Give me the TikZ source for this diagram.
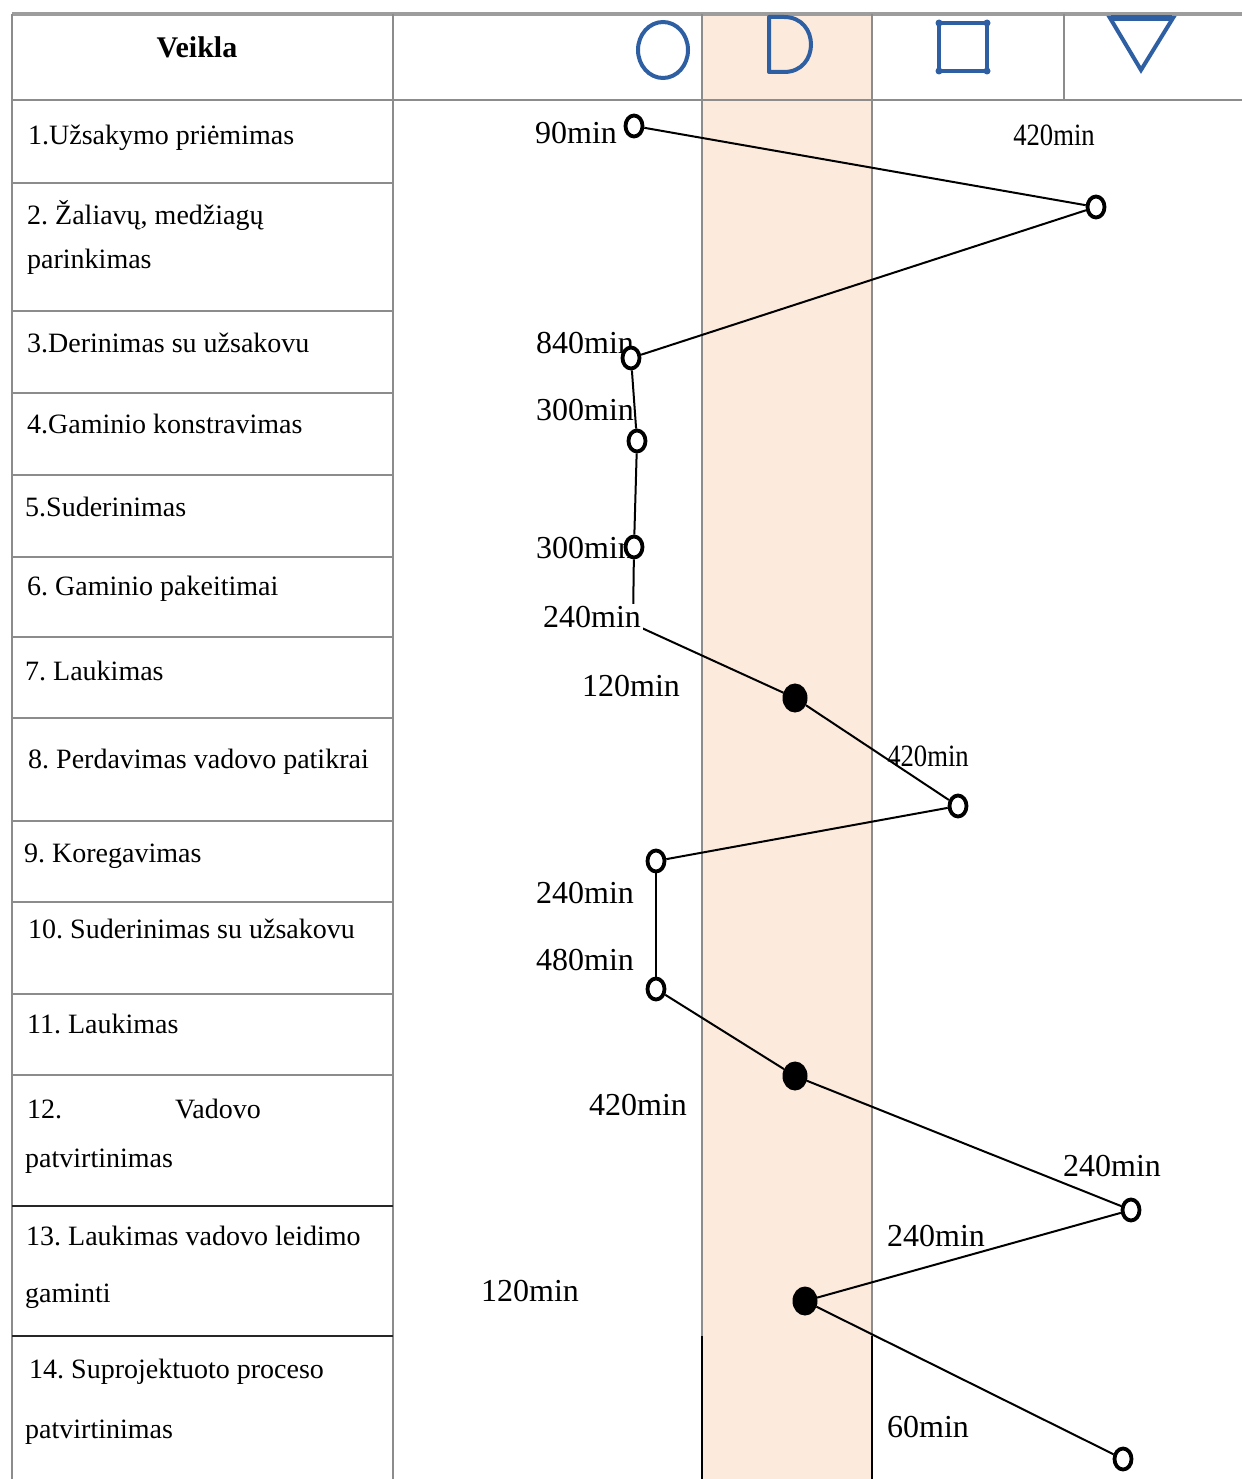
\documentclass[tikz,border=0pt]{standalone}
\usepackage{fontspec}
\setmainfont{Liberation Serif}
\usetikzlibrary{shapes.geometric}
\definecolor{band}{RGB}{252,235,220}
\definecolor{rule}{RGB}{140,140,140}
\definecolor{symblue}{RGB}{46,95,163}
\frenchspacing
\begin{document}
\begin{tikzpicture}[x=1pt,y=-1pt,
  rowtext/.style={anchor=base west, inner sep=0pt, font=\fontsize{28}{34}\selectfont},
  headtext/.style={anchor=base, inner sep=0pt, font=\bfseries\fontsize{30}{36}\selectfont},
  timelbl/.style={inner sep=1pt, font=\fontsize{32}{38}\selectfont},
  narrowlbl/.style={inner sep=1pt, font=\fontsize{31}{36}\selectfont},
  opennode/.style={ellipse, draw, line width=3.8pt, fill=white, minimum width=17pt, minimum height=21pt, inner sep=0pt},
  fullnode/.style={ellipse, fill=black, draw, line width=1pt, minimum width=24pt, minimum height=28pt, inner sep=0pt},
  flow/.style={line width=2pt},
  gridline/.style={draw=rule, line width=2.5pt},
  symbol/.style={draw=symblue, line width=4pt}
]
\useasboundingbox (0,0) rectangle (1242,1479);

% shaded delay column
\fill[band] (702,14) rectangle (872,1479);

% table rules
\draw[gridline, line width=4pt, draw=rule!85] (12,14) -- (1242,14);
\draw[gridline] (12,14) -- (12,1479);
\draw[gridline] (393,14) -- (393,1479);
\draw[gridline] (702,14) -- (702,1336);
\draw[gridline] (872,14) -- (872,1336);
\draw[gridline] (1064,14) -- (1064,100);
\draw[gridline] (12,100) -- (1242,100);
\foreach \yy in {183,311,393,475,557,637,718,821,902,994,1075}
  \draw[gridline] (12,\yy) -- (393,\yy);
\draw[line width=2.5pt, black!85] (12,1206) -- (393,1206) (12,1336) -- (393,1336);
\draw[line width=2pt] (702,1336) -- (702,1479) (872,1336) -- (872,1479);

% header symbols
\draw[symbol] (663,50) ellipse [x radius=25pt, y radius=28pt];
\draw[symbol, line join=round] (769,17) -- (784,17) .. controls (820,17) and (820,72) .. (784,72) -- (769,72) -- cycle;
\draw[symbol] (939,23) rectangle (987,71);
\foreach \cx/\cy in {939/23,987/23,939/71,987/71}
  \fill[symblue] (\cx,\cy) circle (3.5pt);
\draw[symbol, line join=miter] (1110,18) -- (1173,18) -- (1141,70) -- cycle;
\draw[symbol, line width=6pt] (1111,18) -- (1172,18);

% activity column
\node[headtext] (hd) at (197,58) {Veikla};
\node[rowtext] (r1) at (28,145) {1.Užsakymo priėmimas};
\node[rowtext] (r2a) at (27,225) {2. Žaliavų, medžiagų};
\node[rowtext] (r2b) at (27,268) {parinkimas};
\node[rowtext] (r3) at (27,352) {3.Derinimas su užsakovu};
\node[rowtext] (r4) at (27,433) {4.Gaminio konstravimas};
\node[rowtext] (r5) at (25,516) {5.Suderinimas};
\node[rowtext] (r6) at (27,595) {6. Gaminio pakeitimai};
\node[rowtext] (r7) at (25,680) {7. Laukimas};
\node[rowtext] (r8) at (28,768) {8. Perdavimas vadovo patikrai};
\node[rowtext] (r9) at (24,862) {9. Koregavimas};
\node[rowtext] (r10) at (28,938) {10. Suderinimas su užsakovu};
\node[rowtext] (r11) at (27,1033) {11. Laukimas};
\node[rowtext] (r12a) at (27,1118) {12.};
\node[rowtext] (r12b) at (175,1118) {Vadovo};
\node[rowtext] (r12c) at (25,1167) {patvirtinimas};
\node[rowtext] (r13a) at (26,1245) {13. Laukimas vadovo leidimo};
\node[rowtext] (r13b) at (25,1302) {gaminti};
\node[rowtext] (r14a) at (29,1378) {14. Suprojektuoto proceso};
\node[rowtext] (r14b) at (25,1438) {patvirtinimas};

% durations
\node[timelbl] (t1) at (576,133) {90min};
\node[narrowlbl] (t2) at (1054,135) {\scalebox{0.86}[1]{420min}};
\node[timelbl] (t3) at (585,343) {840min};
\node[timelbl] (t4) at (585,410) {300min};
\node[timelbl] (t5) at (585,548) {300min};
\node[timelbl] (t7) at (631,686) {120min};
\node[narrowlbl] (t8) at (928,756) {\scalebox{0.86}[1]{420min}};
\node[timelbl] (t9) at (585,893) {240min};
\node[timelbl] (t10) at (585,960) {480min};
\node[timelbl] (t11) at (638,1105) {420min};
\node[timelbl] (t12) at (1112,1166) {240min};
\node[timelbl] (t13a) at (936,1236) {240min};
\node[timelbl] (t13b) at (530,1291) {120min};
\node[timelbl] (t14) at (928,1427) {60min};

% process points
\node[opennode] (p1) at (634,126) {};
\node[opennode] (p2) at (1096,207) {};
\node[opennode] (p3) at (631,358) {};
\node[opennode] (p4) at (637,441) {};
\node[opennode] (p5) at (634,547) {};
\coordinate (c6) at (633,624);
\node[fullnode] (p7) at (795,698) {};
\node[opennode] (p8) at (958,806) {};
\node[opennode] (p9) at (656,861) {};
\node[opennode] (p10) at (656,989) {};
\node[fullnode] (p11) at (795,1076) {};
\node[opennode] (p12) at (1131,1210) {};
\node[fullnode] (p13) at (805,1301) {};
\node[opennode] (p14) at (1123,1459) {};

% flow line
\draw[flow] (p1) -- (p2);
\draw[flow] (p2) -- (p3);
\draw[flow] (p3) -- (p4);
\draw[flow] (p4) -- (p5);
\draw[flow] (p5) -- (c6) -- (p7);
\draw[flow] (p7) -- (p8);
\draw[flow] (p8) -- (p9);
\draw[flow] (p9) -- (p10);
\draw[flow] (p10) -- (p11);
\draw[flow] (p11) -- (p12);
\draw[flow] (p12) -- (p13);
\draw[flow] (p13) -- (p14);

% label lying over the bend of the line
\node[timelbl, fill=white, inner sep=2pt] (t6) at (592,617) {240min};
\end{tikzpicture}
\end{document}
